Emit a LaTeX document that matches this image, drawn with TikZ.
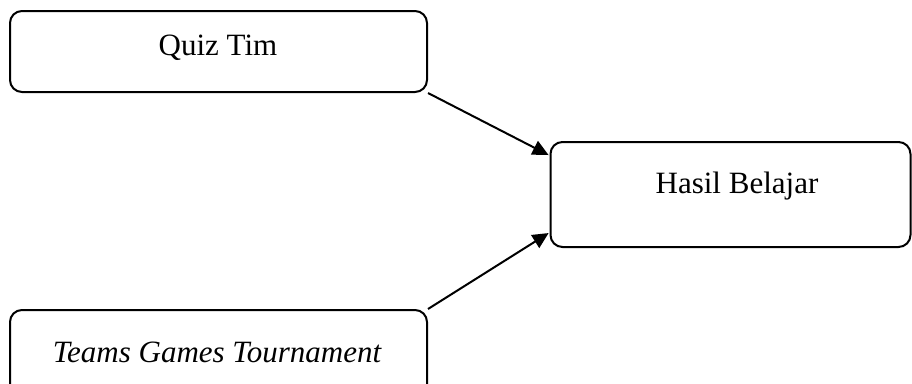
\documentclass[tikz,border=0pt]{standalone}
\usepackage{fontspec}
\setmainfont{Liberation Serif}
\usetikzlibrary{arrows.meta}

\tikzset{
  box/.style={draw=black, line width=2pt, rounded corners=12pt, rectangle,
              inner sep=0pt, minimum width=#1},
  caption/.style={anchor=base, inner sep=0pt, font=\fontsize{31}{36}\selectfont},
  link/.style={line width=2pt, -{Triangle[length=16pt,width=15pt]}, shorten >=1pt}
}

\begin{document}
\begin{tikzpicture}[x=1pt,y=-1pt]
  \clip (0,0) rectangle (912,383);
  \fill[white] (0,0) rectangle (912,383);

  % the three boxes
  \node[box=417pt, minimum height=81pt]  (quiz)  at (218.5,51.5) {};
  \node[box=360pt, minimum height=105pt] (hasil) at (730.5,194.5)  {};
  \node[box=417pt, minimum height=100pt] (tgt)   at (218.5,360)  {};

  % their captions, set near the top of each box
  \node[caption] (quiztext)  at (218,55)  {Quiz Tim};
  \node[caption] (hasiltext) at (737,193) {Hasil Belajar};
  \node[caption] (tgttext)   at (217,362) {\itshape Teams Games Tournament};

  % both factors lead into the learning outcome
  \draw[link] (quiz.south east) -- ([yshift=39pt]hasil.west);
  \draw[link] (tgt.north east)  -- ([yshift=-38pt]hasil.west);
\end{tikzpicture}
\end{document}
